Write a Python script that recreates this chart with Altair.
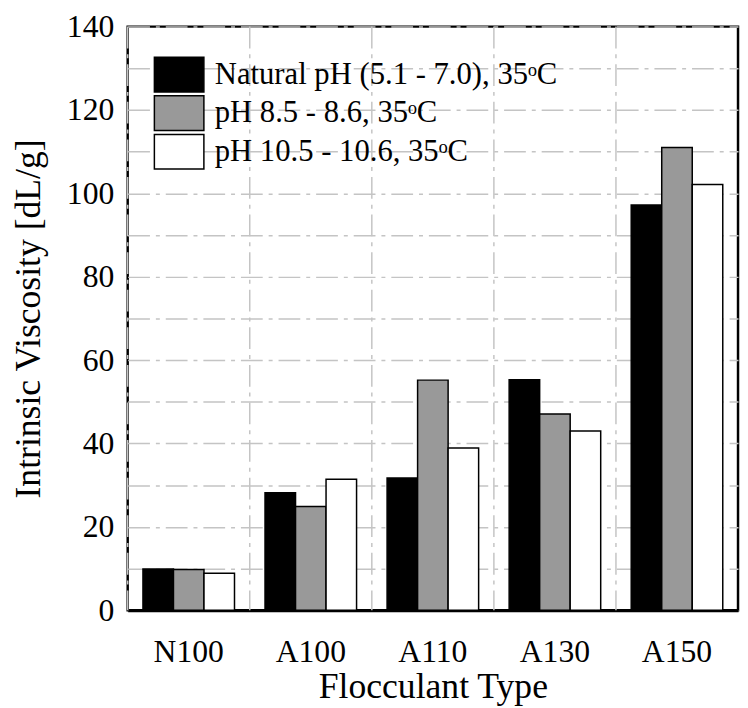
import altair as alt
import pandas as pd

categories = ["N100", "A100", "A110", "A130", "A150"]
series_names = [
    "Natural pH (5.1 - 7.0), 35ᵒC",
    "pH 8.5 - 8.6, 35ᵒC",
    "pH 10.5 - 10.6, 35ᵒC",
]
natural = [9.9, 28.2, 31.7, 55.3, 97.2]
ph85 = [9.8, 24.9, 55.2, 47.1, 111.0]
ph105 = [8.9, 31.4, 38.9, 43.0, 102.1]
colors = ["#000000", "#999999", "#ffffff"]
y_ticks = list(range(0, 141, 10))

rows = []
for s, vals in zip(series_names, [natural, ph85, ph105]):
    for c, v in zip(categories, vals):
        rows.append({"cat": c, "series": s, "value": v})
df = pd.DataFrame(rows)
cat_df = pd.DataFrame({"cat": categories})

FONT = "Liberation Serif"
W, H = 617, 590
x_scale = alt.Scale(paddingInner=0.25, paddingOuter=0.125)
half_gap = 0.125 * W / 5.0

x_axis = alt.Axis(
    title="Flocculant Type",
    labelAngle=0,
    labelFontSize=32,
    titleFontSize=36,
    labelPadding=27,
    titlePadding=2,
    ticks=False,
    grid=False,
    domainColor="black",
    domainWidth=3,
    labelColor="black",
    titleColor="black",
    titleFontWeight="normal",
)

bars = alt.Chart(df).mark_bar(stroke="black", strokeWidth=1.5).encode(
    x=alt.X("cat:N", sort=categories, scale=x_scale, axis=x_axis),
    xOffset=alt.XOffset("series:N", sort=series_names),
    y=alt.Y(
        "value:Q",
        scale=alt.Scale(domain=[0, 140], nice=False),
        axis=alt.Axis(
            title="Intrinsic Viscosity [dL/g]",
            values=y_ticks,
            labelExpr="datum.value % 20 == 0 ? datum.label : ''",
            labelFontSize=32,
            titleFontSize=36,
            labelPadding=14,
            titlePadding=19,
            ticks=False,
            domain=False,
            grid=True,
            gridColor="#c4c4c4",
            gridWidth=1.5,
            gridDash=[22, 6, 4, 6],
            labelColor="black",
            titleColor="black",
            titleFontWeight="normal",
        ),
    ),
    fill=alt.Fill(
        "series:N",
        sort=series_names,
        scale=alt.Scale(domain=series_names, range=colors),
        legend=alt.Legend(
            title=None,
            orient="none",
            legendX=33.5,
            legendY=30,
            symbolType="M-1.43,-1L1.43,-1L1.43,1L-1.43,1Z",
            symbolSize=1225,
            symbolStrokeColor="black",
            symbolStrokeWidth=1.5,
            symbolOpacity=1,
            labelFontSize=31,
            labelOffset=17.5,
            labelLimit=500,
            rowPadding=-2,
            padding=0,
            labelColor="black",
        ),
    ),
)

vgrid = alt.Chart(cat_df).mark_rule(
    color="#c4c4c4", strokeWidth=1.5, strokeDash=[22, 6, 4, 6], xOffset=-half_gap
).encode(
    x=alt.X("cat:N", sort=categories, scale=x_scale, bandPosition=0, axis=x_axis)
)

chart = alt.layer(vgrid, bars).properties(
    width=W,
    height=H,
    padding={"left": 121, "top": 15, "right": 2, "bottom": 95},
    autosize=alt.AutoSizeParams(type="none"),
).configure(font=FONT).configure_view(
    stroke="black", strokeWidth=2.5
)

chart.save("out.html", embed_options={"renderer": "svg", "actions": False})
